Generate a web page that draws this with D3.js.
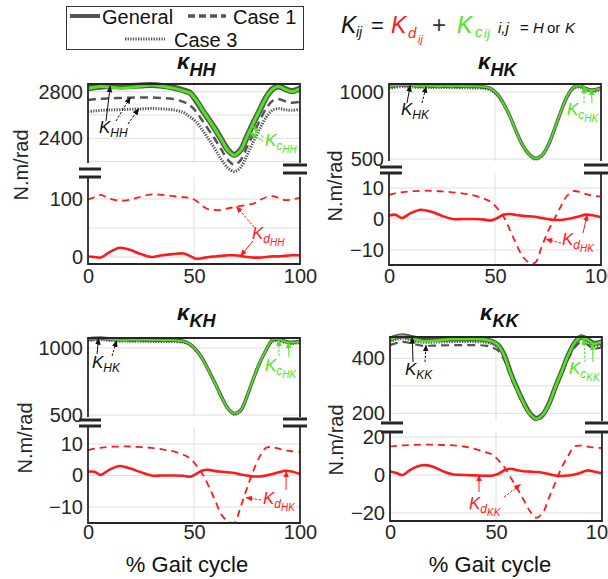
<!DOCTYPE html>
<html><head><meta charset="utf-8">
<script src="https://cdn.jsdelivr.net/npm/d3@7"></script>
<style>body{margin:0;background:#fff}svg{display:block;font-family:"Liberation Sans",Arial,sans-serif}</style>
</head><body><svg id="c" width="608" height="579"></svg>
<script>
// ---------- DATA ----------
const gait = [0,3,6,10,15,20,25,30,35,40,45,48,51,54,57,60,63,66,69,72,75,78,81,84,87,90,93,96,100];
const xTicks = [0,50,100];

const hhGeneral = [2829,2838,2843,2848,2846,2849,2853,2857,2850,2836,2812,2792,2725,2640,2560,2478,2388,2300,2258,2300,2415,2530,2640,2750,2822,2845,2822,2805,2828];
const hhKc      = [2828,2838,2844,2840,2830,2837,2848,2857,2847,2831,2806,2790,2728,2642,2560,2477,2386,2297,2255,2298,2415,2531,2641,2750,2821,2844,2820,2802,2825];
const hhCase1   = [2729,2735,2740,2743,2746,2749,2750,2750,2745,2738,2712,2685,2630,2550,2470,2390,2300,2215,2172,2212,2325,2440,2550,2655,2720,2735,2718,2706,2714];
const hhCase3   = [2629,2635,2640,2643,2646,2649,2652,2657,2652,2645,2622,2585,2540,2470,2390,2305,2215,2145,2115,2150,2255,2370,2480,2580,2640,2655,2645,2640,2649];
const hhKdGen   = [1,0,-1,8,16,12,5,0,3,5,6,2,-3,-2,0,1,2,3,3,2,0,-1,-1,0,1,1,2,3,3];
const hhKdCase1 = [99,103,107,101,97,99,104,108,107,105,103,102,97,88,82,81,81,84,86,88,90,92,98,103,105,102,98,99,102];

const hkGeneral = [1042,1050,1054,1050,1047,1046,1045,1044,1043,1042,1038,1025,985,915,820,705,605,537,505,525,600,720,850,965,1035,1048,1025,1015,1030];
const hkKc      = [1041,1049,1054,1048,1044,1044,1044,1044,1043,1042,1038,1025,985,914,818,704,604,536,504,524,600,720,850,965,1035,1047,1024,1014,1029];
const hkCase1   = [1032,1040,1044,1041,1038,1037,1036,1035,1034,1033,1030,1018,978,908,812,698,597,530,498,518,594,713,843,957,1027,1040,1018,1008,1022];
const hkCase3   = [1022,1030,1035,1032,1030,1029,1028,1027,1026,1025,1022,1010,972,903,808,694,593,526,494,514,590,709,838,951,1020,1032,1010,1000,1014];
const hkKdGen   = [1.1,1.4,0.3,1.8,3,2.3,1,0,0,0,-0.2,-0.5,0.3,1.4,1.6,1.3,1,0.9,0.7,0.3,0,-0.3,-0.3,0,0.4,0.9,1.4,1.2,0.6];
const hkKdCase1 = [7.8,8.3,8.6,8.9,9.1,9.1,8.9,8.6,8.2,7.6,6.5,5.5,3.5,0.8,-3.5,-8,-12,-14,-14,-9,-4,0,4,7.5,9,8.7,8,7.5,7.3];

const khGeneral = [1068,1072,1075,1068,1062,1062,1061,1060,1059,1058,1050,1030,985,920,830,735,635,550,512,535,640,770,890,985,1060,1065,1050,1042,1050];
const khKc      = [1067,1071,1075,1066,1059,1060,1060,1060,1059,1058,1050,1030,984,918,828,734,634,549,511,535,640,770,890,985,1060,1064,1048,1041,1050];
const khCase1   = [1058,1062,1066,1060,1054,1053,1052,1051,1050,1050,1043,1024,978,913,823,728,628,543,505,528,633,762,882,976,1051,1056,1042,1034,1042];
const khCase3   = [1050,1055,1058,1052,1047,1046,1045,1044,1044,1043,1037,1018,972,908,818,723,622,538,500,523,628,757,876,970,1044,1049,1035,1028,1035];
const khKdGen   = [1.2,1.2,0.2,1.8,3,2.2,1,0,0,0,-0.1,-0.4,0.5,1.6,1.8,1.4,1.2,1,0.8,0.3,0,-0.3,-0.3,0,0.5,1,1.5,1.3,0.5];
const khKdCase1 = [8,8.5,8.8,9.1,9.2,9.2,9,8.8,8.3,7.7,6.6,5.5,3.3,0.5,-3.5,-8,-12.5,-14.5,-15,-10,-4,1.5,6,8.8,9,8.5,8,7.7,7.5];

const kkGeneral = [470,478,482,476,468,468,469,470,470,470,468,462,448,410,345,290,240,200,182,195,235,295,352,410,455,478,470,455,461];
const kkKc      = [468,477,482,473,463,463,467,470,470,470,468,462,448,408,342,288,238,198,180,194,234,295,352,410,455,477,468,453,460];
const kkCase1   = [448,455,460,455,446,446,447,448,448,448,446,440,428,392,330,278,230,192,175,188,228,285,340,395,438,458,450,435,441];
const kkCase3   = [460,468,472,466,458,458,459,460,460,460,458,452,439,402,338,284,235,196,178,191,231,290,346,403,447,469,461,446,452];
const kkKdGen   = [1.8,1,0,3,5.1,4.5,2,0.3,0,-0.2,-0.4,-0.4,0.5,2.5,3.3,2.5,2,1.8,1.6,1.2,0.5,-0.3,-0.5,-0.3,0.3,1.2,2.4,1.8,0.9];
const kkKdCase1 = [14.9,15.3,15.6,15.8,16,16,15.8,15.6,15,13.8,12,10.9,8,4,-1.5,-7,-13,-19,-22.5,-20,-12,-4,4,10,15,15.5,15,14.5,14.2];

const hhTopTicks = [2800,2400], hhTopGrid = [2800,2600,2400,2200];
const hhBotTicks = [100,0],     hhBotGrid = [100,50,0];
const hkTopTicks = [1000,500],  hkTopGrid = [1000,500];
const hkBotTicks = [10,0,-10],  hkBotGrid = [10,0,-10];
const kkTopTicks = [400,200],   kkTopGrid = [400,300,200];
const kkBotTicks = [20,0,-20],  kkBotGrid = [20,0,-20];

const legendLabels = ["General","Case 1","Case 3"];

// ---------- STYLE ----------
const GRAY = "#555555", GREEN = "#4ce61a", RED = "#ff1a1a", INK = "#262626";
const fmt = d => d < 0 ? "\u2212" + Math.abs(d) : String(d);
const svg = d3.select("#c");
const defs = svg.append("defs");
function marker(id, color){
  defs.append("marker").attr("id",id).attr("viewBox","0 0 10 10").attr("refX",9).attr("refY",5)
    .attr("markerWidth",7).attr("markerHeight",7).attr("orient","auto-start-reverse")
    .append("path").attr("d","M0,1 L10,5 L0,9 z").attr("fill",color);
}
marker("aK","#111"); marker("aG",GREEN); marker("aR",RED);

const panels = [
 {key:"HH", xr:[88,300], title:[177,69,76],
  top:{dom:[2800,2400], rng:[91.7,138.3], ticks:hhTopTicks, grid:hhTopGrid, y0:84, y1:163},
  bot:{dom:[100,0], rng:[199,257], ticks:hhBotTicks, grid:hhBotGrid, y0:177, y1:264},
  brkL:[169,177], brkR:[165,173], ylab:[21,165], xtY:284,
  gen:hhGeneral, kc:hhKc, c1:hhCase1, c3:hhCase3, kd:hhKdGen, kd1:hhKdCase1, w:[6,3,2.5,3]},
 {key:"HK", xr:[389,601], title:[478,69,76],
  top:{dom:[1000,500], rng:[92,159], ticks:hkTopTicks, grid:hkTopGrid, y0:84, y1:161},
  bot:{dom:[10,-10], rng:[188,250], ticks:hkBotTicks, grid:hkBotGrid, y0:173, y1:265},
  brkL:[167,173], brkR:[165,173], ylab:[335,186], xtY:284,
  gen:hkGeneral, kc:hkKc, c1:hkCase1, c3:hkCase3, kd:hkKdGen, kd1:hkKdCase1, w:[3.5,1.8,1.5,1.6]},
 {key:"KH", xr:[88,300], title:[177,320,327],
  top:{dom:[1000,500], rng:[348,415], ticks:hkTopTicks, grid:hkTopGrid, y0:338, y1:417},
  bot:{dom:[10,-10], rng:[444,507], ticks:hkBotTicks, grid:hkBotGrid, y0:427, y1:523},
  brkL:[420,426], brkR:[419,426], ylab:[25,438], xtY:540,
  gen:khGeneral, kc:khKc, c1:khCase1, c3:khCase3, kd:khKdGen, kd1:khKdCase1, w:[3.5,1.8,1.5,1.6]},
 {key:"KK", xr:[390,602], title:[480,320,327],
  top:{dom:[400,200], rng:[358.3,413.3], ticks:kkTopTicks, grid:kkTopGrid, y0:337, y1:421},
  bot:{dom:[20,-20], rng:[437,513], ticks:kkBotTicks, grid:kkBotGrid, y0:432, y1:521},
  brkL:[423,432], brkR:[423,432], ylab:[336,440], xtY:540,
  gen:kkGeneral, kc:kkKc, c1:kkCase1, c3:kkCase3, kd:kkKdGen, kd1:kkKdCase1, w:[5,2.6,2.2,2.6]}
];

const curve = d3.curveCatmullRom.alpha(0.5);

panels.forEach(p=>{
  const g = svg.append("g");
  const x = d3.scaleLinear().domain([0,100]).range(p.xr);
  const yT = d3.scaleLinear().domain(p.top.dom).range(p.top.rng);
  const yB = d3.scaleLinear().domain(p.bot.dom).range(p.bot.rng);
  p.x=x; p.yT=yT; p.yB=yB;
  [[p.top,yT],[p.bot,yB]].forEach(([s,y])=>{
    g.selectAll(null).data(s.grid).enter().append("line")
      .attr("x1",p.xr[0]).attr("x2",p.xr[1]).attr("y1",d=>y(d)).attr("y2",d=>y(d))
      .attr("stroke","#dedede").attr("stroke-width",1);
    g.append("line").attr("x1",x(50)).attr("x2",x(50)).attr("y1",s.y0).attr("y2",s.y1)
      .attr("stroke","#dedede").attr("stroke-width",1);
  });
  const line = (y)=>d3.line().x((d,i)=>x(gait[i])).y(d=>y(d)).curve(curve);
  g.append("path").attr("d",line(yT)(p.c3)).attr("fill","none").attr("stroke",GRAY)
    .attr("stroke-width",p.w[3]).attr("stroke-dasharray","1.3,1.3");
  g.append("path").attr("d",line(yT)(p.c1)).attr("fill","none").attr("stroke",GRAY)
    .attr("stroke-width",p.w[2]).attr("stroke-dasharray","8,5");
  g.append("path").attr("d",line(yT)(p.gen)).attr("fill","none").attr("stroke",GRAY)
    .attr("stroke-width",p.w[0]).attr("stroke-linejoin","round");
  g.append("path").attr("d",line(yT)(p.kc)).attr("fill","none").attr("stroke",GREEN)
    .attr("stroke-width",p.w[1]).attr("stroke-linejoin","round");
  g.append("path").attr("d",line(yB)(p.kd1)).attr("fill","none").attr("stroke",RED)
    .attr("stroke-width",1.8).attr("stroke-dasharray","7,5");
  g.append("path").attr("d",line(yB)(p.kd)).attr("fill","none").attr("stroke",RED)
    .attr("stroke-width",2.6);
  const ax = (x1,y1,x2,y2,w)=>g.append("line").attr("x1",x1).attr("y1",y1).attr("x2",x2).attr("y2",y2)
      .attr("stroke",INK).attr("stroke-width",w||1.8);
  ax(p.xr[0],p.top.y0,p.xr[1],p.top.y0);
  ax(p.xr[0],p.top.y0-0.9,p.xr[0],p.top.y1);
  ax(p.xr[1],p.top.y0-0.9,p.xr[1],p.top.y1);
  ax(p.xr[0],p.bot.y0,p.xr[0],p.bot.y1+0.9);
  ax(p.xr[1],p.bot.y0,p.xr[1],p.bot.y1+0.9);
  ax(p.xr[0],p.bot.y1,p.xr[1],p.bot.y1);
  p.brkL.forEach(yy=>ax(p.xr[0]-9,yy,p.xr[0]+13,yy,3));
  p.brkR.forEach(yy=>ax(p.xr[1]-17,yy,p.xr[1]+7,yy,3));
  [[p.top,yT],[p.bot,yB]].forEach(([s,y])=>{
    const a = g.append("g").attr("transform",`translate(${p.xr[0]},0)`)
      .call(d3.axisLeft(y).tickValues(s.ticks).tickFormat(fmt).tickSize(0).tickPadding(5));
    a.select(".domain").remove();
    a.selectAll("text").attr("font-size",20).attr("fill",INK).attr("font-family","Liberation Sans, Arial, sans-serif");
  });
  const xa = g.append("g").attr("transform",`translate(0,${p.xtY-15})`)
    .call(d3.axisBottom(x).tickValues(xTicks).tickFormat(fmt).tickSize(0).tickPadding(0));
  xa.select(".domain").remove();
  xa.selectAll("text").attr("font-size",20).attr("fill",INK).attr("dy","0.71em").attr("font-family","Liberation Sans, Arial, sans-serif");
  g.append("text").attr("transform",`translate(${p.ylab[0]},${p.ylab[1]}) rotate(-90)`)
    .attr("text-anchor","middle").attr("dy","0.36em").attr("font-size",20).attr("fill",INK).text("N.m/rad");
  const t = g.append("text").attr("x",p.title[0]).attr("y",p.title[1]).attr("font-weight","bold")
    .attr("font-style","italic").attr("fill","#111");
  t.append("tspan").attr("font-size",22).text("κ");
  t.append("tspan").attr("font-size",18).attr("dy",p.title[2]-p.title[1]).text(p.key);
});

[[187,572],[490,572]].forEach(([cx,cy])=>svg.append("text").attr("x",cx).attr("y",cy)
  .attr("text-anchor","middle").attr("font-size",22).attr("fill","#111").text("% Gait cycle"));

// ---------- annotations ----------
function label(x,y,color,main,sub,sub2){
  const t = svg.append("text").attr("x",x).attr("y",y).attr("fill",color).attr("font-style","italic");
  t.append("tspan").attr("font-size",17).text(main);
  t.append("tspan").attr("font-size",12).attr("dy",4).text(sub);
  if(sub2) t.append("tspan").attr("font-size",10).attr("dy",3).text(sub2);
}
function arrow(x1,y1,x2,y2,color,mk,dash){
  svg.append("line").attr("x1",x1).attr("y1",y1).attr("x2",x2).attr("y2",y2)
    .attr("stroke",color).attr("stroke-width",1).attr("stroke-dasharray",dash?"2.5,1.5":null)
    .attr("marker-end",`url(#${mk})`);
}
const P = Object.fromEntries(panels.map(p=>[p.key,p]));
const at = (p,gx,val,top)=>[p.x(gx), top? p.yT(val): p.yB(val)];
label(99,133,"#111","K","HH");
arrow(106,121,...at(P.HH,10.5,2848,true),"#111","aK",false);
arrow(116,121,...at(P.HH,20,2752,true),"#111","aK",true);
arrow(128,124,...at(P.HH,24,2655,true),"#111","aK",true);
label(265,146,GREEN,"K","c","HH");
arrow(263,137,...at(P.HH,78,2500,true),GREEN,"aG",true);
arrow(263,141,...at(P.HH,76.5,2445,true),GREEN,"aG",false);
label(252,239,RED,"K","d","HH");
arrow(254,227,...at(P.HH,70,87,false),RED,"aR",true);
arrow(253,241,...at(P.HH,72,2,false),RED,"aR",false);
label(401,115,"#111","K","HK");
arrow(407,103,...at(P.HK,10,1050,true),"#111","aK",false);
arrow(422,103,...at(P.HK,17.5,1040,true),"#111","aK",true);
label(567,115,GREEN,"K","c","HK");
arrow(584,103,...at(P.HK,92,1040,true),GREEN,"aG",true);
arrow(592,103,...at(P.HK,95.5,1022,true),GREEN,"aG",false);
label(562,245,RED,"K","d","HK");
arrow(561,243,...at(P.HK,74,-6.5,false),RED,"aR",true);
arrow(583,233,...at(P.HK,93.5,1.4,false),RED,"aR",false);
label(92,368,"#111","K","HK");
arrow(97,354,...at(P.KH,5,1072,true),"#111","aK",false);
arrow(112,356,...at(P.KH,13.5,1055,true),"#111","aK",true);
label(265,371,GREEN,"K","c","HK");
arrow(279,356,...at(P.KH,90,1062,true),GREEN,"aG",true);
arrow(289,357,...at(P.KH,94.5,1044,true),GREEN,"aG",false);
label(263,504,RED,"K","d","HK");
arrow(261,500,...at(P.KH,74.5,-7,false),RED,"aR",true);
arrow(286,490,...at(P.KH,93.5,1.4,false),RED,"aR",false);
label(405,375,"#111","K","KK");
arrow(413,362,...at(P.KK,10.5,476,true),"#111","aK",false);
arrow(425,362,...at(P.KK,17,448,true),"#111","aK",true);
label(569,374,GREEN,"K","c","KK");
arrow(585,362,...at(P.KK,91.5,472,true),GREEN,"aG",true);
arrow(593,362,...at(P.KK,95.5,454,true),GREEN,"aG",false);
label(469,509,RED,"K","d","KK");
arrow(504,497,...at(P.KK,61.5,-5,false),RED,"aR",true);
arrow(479,492,...at(P.KK,42,0,false),RED,"aR",false);

// ---------- legend ----------
const lg = svg.append("g");
lg.append("rect").attr("x",66.5).attr("y",6.5).attr("width",237).attr("height",43)
  .attr("fill","#fff").attr("stroke","#333").attr("stroke-width",1);
const lsamp = [[70,100,16,null,4],[188,226,16,"7,4",3.5],[125,165,39,"1.3,1.3",3]];
lsamp.forEach(([a,b,y,da,w])=>lg.append("line").attr("x1",a).attr("x2",b).attr("y1",y).attr("y2",y)
  .attr("stroke",GRAY).attr("stroke-width",w).attr("stroke-dasharray",da));
[[102,24],[233,24],[174,47]].forEach(([lx,ly],i)=>lg.append("text").attr("x",lx).attr("y",ly)
  .attr("font-size",20).attr("fill","#111").text(legendLabels[i]));

// ---------- formula ----------
function ft(x,y,size,color,txt,italic){
  svg.append("text").attr("x",x).attr("y",y).attr("font-size",size).attr("fill",color)
    .attr("font-style",italic?"italic":null).text(txt);
}
ft(341,33,23,"#111","K",true); ft(356,37,14,"#111","ij",true);
ft(371,33,22,"#111","=",false);
ft(391,33,23,RED,"K",true); ft(408,38,15,RED,"d",true); ft(418,43,11,RED,"ij",true);
ft(432,33,24,"#333","+",false);
ft(457,33,23,GREEN,"K",true); ft(475,37,15,GREEN,"c",true); ft(484,38,13,GREEN,"ij",true);
ft(498,33,15,"#111","i,j",true); ft(520,33,15,"#111","=",false); ft(533,33,15,"#111","H",true);
ft(547,33,15,"#111","or",false); ft(565,33,15,"#111","K",true);
</script></body></html>
